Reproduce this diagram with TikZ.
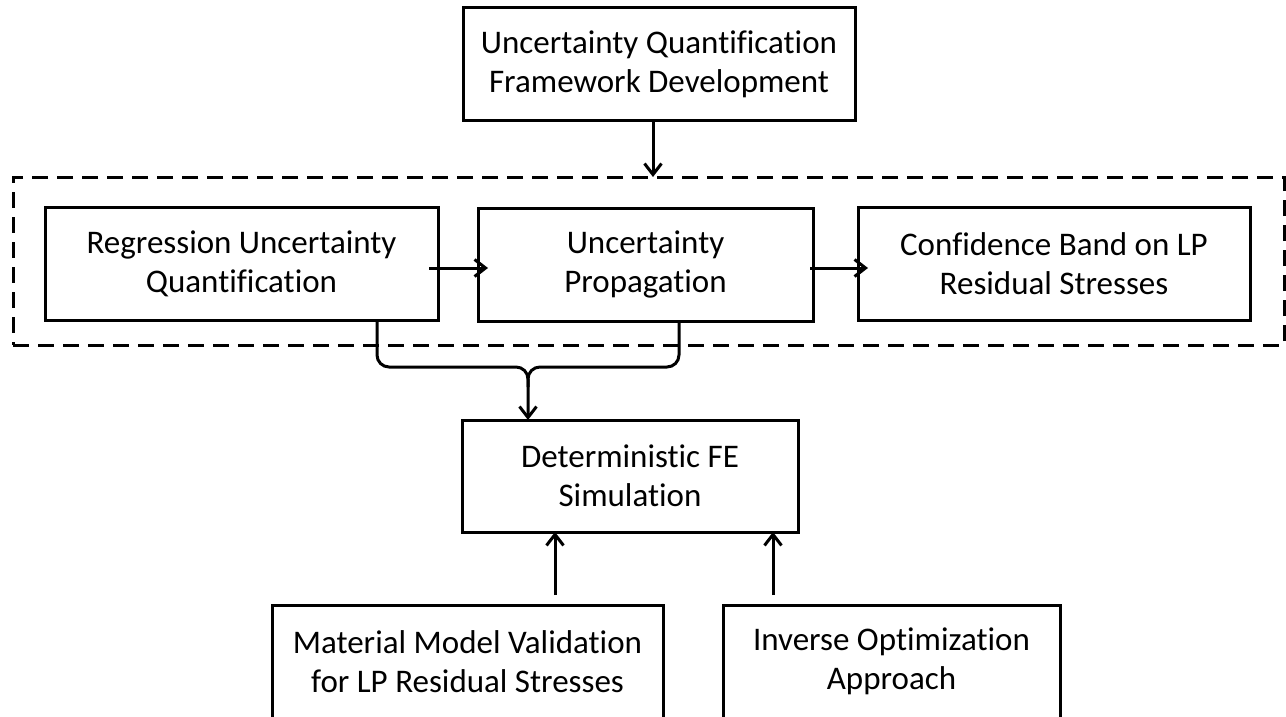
\documentclass[tikz,border=0pt]{standalone}
\usepackage{fontspec}
\setmainfont{Carlito}[Ligatures=NoCommon]
\usetikzlibrary{arrows.meta}
\begin{document}
\begin{tikzpicture}[x=1pt,y=-1pt,
  box/.style={draw,line width=3pt,inner sep=0pt,outer sep=0pt,align=center,
    font=\fontsize{33}{39}\selectfont},
  arr/.style={line width=3pt,-{Straight Barb[length=11pt,width=17pt,line width=3pt]}},
  link/.style={line width=3pt},
  group/.style={draw,line width=3pt,dash pattern=on 16pt off 9pt,inner sep=0pt,outer sep=0pt}]
\useasboundingbox (0,0) rectangle (1286,717);
\node[group,minimum width=1271pt,minimum height=168pt] (grp) at (648.5,261) {};
\node[box,minimum width=392pt,minimum height=112pt] (top) at (659,64)
  {Uncertainty Quantification\\Framework Development};
\node[box,minimum width=393pt,minimum height=113pt] (reg) at (241.5,263.5)
  {Regression Uncertainty\\Quantification};
\node[box,minimum width=335pt,minimum height=113pt] (prop) at (645.5,264.5)
  {Uncertainty\\Propagation};
\node[box,minimum width=392pt,minimum height=113pt] (conf) at (1054,263.5)
  {Confidence Band on LP\\Residual Stresses};
\node[box,minimum width=336pt,minimum height=112pt] (det) at (630,476)
  {Deterministic FE\\Simulation};
\node[box,minimum width=391pt,minimum height=113pt] (mat) at (467.5,661.5)
  {Material Model Validation\\for LP Residual Stresses};
\node[box,minimum width=337pt,minimum height=113pt] (inv) at (891.5,661.5)
  {Inverse Optimization\\Approach};
\coordinate (m) at (528,367);
\draw[arr] ([xshift=-6pt]top.south) -- ([xshift=-6pt]top.south |- grp.north);
\draw[arr] ([shift={(-9pt,-4.5pt)}]reg.east) -- ([shift={(10pt,-3.5pt)}]prop.west);
\draw[arr] ([shift={(-3pt,-3.5pt)}]prop.east) -- ([shift={(10pt,-4.5pt)}]conf.west);
\draw[arr,rounded corners=12pt] ([xshift=135.5pt]reg.south) |- (m) -- ([xshift=-102pt]det.north);
\draw[link,rounded corners=12pt] ([xshift=33.5pt]prop.south) |- (m) -- ++(0,20);
\draw[arr] ([shift={(87.5pt,10pt)}]mat.north) -- ([xshift=-75pt]det.south);
\draw[arr] ([shift={(-118.5pt,10pt)}]inv.north) -- ([xshift=143pt]det.south);
\end{tikzpicture}
\end{document}
